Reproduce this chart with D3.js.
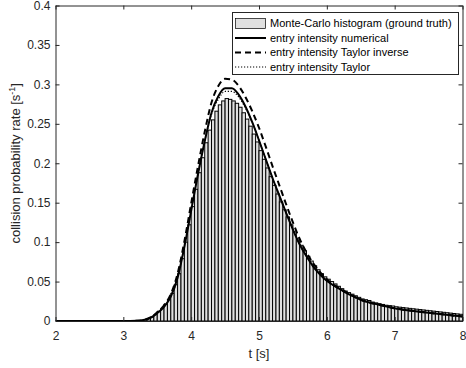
<!DOCTYPE html>
<html>
<head>
<meta charset="utf-8">
<script src="https://d3js.org/d3.v7.min.js"></script>
<style>
  body { margin: 0; background: #fff; }
  svg { display: block; font-family: "Liberation Sans", Arial, sans-serif; }
</style>
</head>
<body>
<svg id="chart" width="466" height="368"></svg>
<script>

// histogram: 120 bins of width 0.05 from 2 to 8
var binStart = 2, binWidth = 0.05;
var histValues = [
  0,0,0,0,0,0,0,0,0,0,0,0,0,0,0,0,0,0,0,0,0,0,0,0,0,0,
  0.002,0.003,0.005,0.008,0.012,0.016,0.021,0.027,0.035,0.046,
  0.060,0.079,0.100,0.122,0.145,0.167,0.188,0.207,0.226,0.242,
  0.255,0.266,0.274,0.279,
  0.282,0.281,0.279,0.276,0.271,0.264,0.256,0.247,0.237,0.227,
  0.216,0.205,0.194,0.183,0.172,0.161,0.151,0.141,0.132,0.122,
  0.113,0.104,0.096,0.089,0.082,0.076,0.070,0.065,0.060,0.056,
  0.053,0.050,0.047,0.044,0.041,0.038,0.036,0.034,0.032,0.030,
  0.028,0.027,0.026,0.024,0.023,0.022,0.021,0.020,0.0195,0.019,
  0.018,0.0175,0.017,0.0165,0.016,0.0155,0.015,0.0145,0.014,0.0135,
  0.013,0.0125,0.012,0.0115,0.011,0.0105,0.010,0.0095,0.009,0.0085
];

var tGrid = [2.0, 2.5, 3.0, 3.2, 3.3, 3.4, 3.5, 3.6, 3.7, 3.8, 3.9, 4.0, 4.1, 4.2, 4.3,
  4.4, 4.5, 4.6, 4.7, 4.8, 4.9, 5.0, 5.1, 5.2, 5.3, 5.4, 5.5, 5.6, 5.7, 5.8, 5.9, 6.0,
  6.1, 6.2, 6.3, 6.4, 6.5, 6.6, 6.7, 6.8, 6.9, 7.0, 7.2, 7.4, 7.6, 7.8, 8.0];

var numerical = [0, 0, 0, 0.0003, 0.0012, 0.004, 0.010, 0.018, 0.031, 0.055, 0.094, 0.140,
  0.186, 0.228, 0.264, 0.285, 0.295, 0.295, 0.287, 0.272, 0.252, 0.229, 0.205, 0.181,
  0.159, 0.137, 0.116, 0.097, 0.082, 0.069, 0.059, 0.051, 0.045, 0.040, 0.035, 0.031,
  0.027, 0.024, 0.022, 0.020, 0.018, 0.016, 0.0135, 0.0115, 0.0095, 0.0075, 0.0058];

var taylorInverse = [0, 0, 0, 0.0003, 0.0013, 0.0045, 0.011, 0.020, 0.034, 0.060, 0.101, 0.149,
  0.196, 0.240, 0.277, 0.298, 0.307, 0.306, 0.298, 0.284, 0.266, 0.245, 0.221, 0.196,
  0.172, 0.148, 0.125, 0.104, 0.087, 0.073, 0.062, 0.053, 0.046, 0.041, 0.036, 0.031,
  0.027, 0.024, 0.022, 0.020, 0.018, 0.016, 0.0135, 0.0115, 0.0095, 0.0075, 0.0058];

var taylor = [0, 0, 0, 0.0003, 0.0012, 0.004, 0.010, 0.018, 0.031, 0.055, 0.094, 0.140,
  0.186, 0.228, 0.262, 0.281, 0.291, 0.291, 0.284, 0.270, 0.252, 0.229, 0.205, 0.181,
  0.159, 0.137, 0.116, 0.097, 0.082, 0.069, 0.059, 0.051, 0.045, 0.040, 0.035, 0.031,
  0.027, 0.024, 0.022, 0.020, 0.018, 0.016, 0.0135, 0.0115, 0.0095, 0.0075, 0.0058];

var xTicks = [2, 3, 4, 5, 6, 7, 8];
var yTicks = [0, 0.05, 0.1, 0.15, 0.2, 0.25, 0.3, 0.35, 0.4];
var yTickLabels = ["0", "0.05", "0.1", "0.15", "0.2", "0.25", "0.3", "0.35", "0.4"];

var legendLabels = [
  "Monte-Carlo histogram (ground truth)",
  "entry intensity numerical",
  "entry intensity Taylor inverse",
  "entry intensity Taylor"
];

var svg = d3.select("#chart");
var axisColor = "#262626";

var x = d3.scaleLinear().domain([2, 8]).range([55.5, 462.5]);
var y = d3.scaleLinear().domain([0, 0.4]).range([321, 5.5]);

svg.append("defs").append("clipPath").attr("id", "plotClip")
  .append("rect")
    .attr("x", x(2)).attr("y", y(0.4))
    .attr("width", x(8) - x(2)).attr("height", y(0) - y(0.4));

// bars
svg.append("g")
  .selectAll("rect")
  .data(histValues)
  .enter().append("rect")
    .attr("x", function(d, i) { return x(binStart + i * binWidth); })
    .attr("width", function(d, i) { return x(binStart + (i + 1) * binWidth) - x(binStart + i * binWidth); })
    .attr("y", function(d) { return y(d); })
    .attr("height", function(d) { return y(0) - y(d); })
    .attr("fill", "#e0e0e0")
    .attr("stroke", "#000")
    .attr("stroke-width", 1);

// lines
var line = d3.line()
  .x(function(d) { return x(d[0]); })
  .y(function(d) { return y(d[1]); })
  .curve(d3.curveMonotoneX);

var series = [
  { values: numerical, width: 2, dash: null },
  { values: taylorInverse, width: 2, dash: "6,4" },
  { values: taylor, width: 1.2, dash: "1.2,1.8" }
];

var lines = svg.append("g").attr("clip-path", "url(#plotClip)");
series.forEach(function(s) {
  lines.append("path")
    .datum(tGrid.map(function(t, i) { return [t, s.values[i]]; }))
    .attr("d", line)
    .attr("fill", "none")
    .attr("stroke", "#000")
    .attr("stroke-width", s.width)
    .attr("stroke-dasharray", s.dash);
});

// axes (box with inward ticks)
function styleAxis(g) {
  g.select(".domain").attr("stroke", axisColor);
  g.selectAll(".tick line").attr("stroke", axisColor);
  g.selectAll(".tick text").attr("fill", axisColor).attr("font-size", 12)
    .attr("font-family", "'Liberation Sans', Arial, sans-serif");
}

svg.append("g")
  .attr("transform", "translate(0," + y(0) + ")")
  .call(d3.axisBottom(x).tickValues(xTicks).tickFormat(d3.format("d"))
    .tickSizeInner(-4).tickSizeOuter(0).tickPadding(10))
  .call(styleAxis);

svg.append("g")
  .attr("transform", "translate(0," + y(0.4) + ")")
  .call(d3.axisTop(x).tickValues(xTicks).tickFormat("")
    .tickSizeInner(-4).tickSizeOuter(0))
  .call(styleAxis);

svg.append("g")
  .attr("transform", "translate(" + x(2) + ",0)")
  .call(d3.axisLeft(y).tickValues(yTicks)
    .tickFormat(function(d, i) { return yTickLabels[i]; })
    .tickSizeInner(-4).tickSizeOuter(0).tickPadding(5))
  .call(styleAxis);

svg.append("g")
  .attr("transform", "translate(" + x(8) + ",0)")
  .call(d3.axisRight(y).tickValues(yTicks).tickFormat("")
    .tickSizeInner(-4).tickSizeOuter(0))
  .call(styleAxis);

svg.selectAll(".domain").attr("fill", "none");

// axis labels
svg.append("text")
  .attr("x", (x(2) + x(8)) / 2)
  .attr("y", 358)
  .attr("text-anchor", "middle")
  .attr("font-size", 13)
  .attr("fill", axisColor)
  .text("t [s]");

var ylab = svg.append("text")
  .attr("transform", "translate(20," + (y(0) + y(0.4)) / 2 + ") rotate(-90)")
  .attr("text-anchor", "middle")
  .attr("font-size", 13)
  .attr("fill", axisColor);
ylab.append("tspan").text("collision probability rate [s");
ylab.append("tspan").attr("font-size", 9).attr("dy", -5).text("-1");
ylab.append("tspan").attr("dy", 5).text("]");

// legend
var legend = svg.append("g");
legend.append("rect")
  .attr("x", 232.5).attr("y", 12.5)
  .attr("width", 226).attr("height", 62)
  .attr("fill", "#fff")
  .attr("stroke", axisColor)
  .attr("stroke-width", 1);

var rowY = [23.5, 38, 52.5, 67];
legend.append("rect")
  .attr("x", 235.5).attr("y", rowY[0] - 5)
  .attr("width", 30).attr("height", 10)
  .attr("fill", "#e0e0e0")
  .attr("stroke", "#000")
  .attr("stroke-width", 0.7);

series.forEach(function(s, i) {
  legend.append("line")
    .attr("x1", 235).attr("x2", 266)
    .attr("y1", rowY[i + 1]).attr("y2", rowY[i + 1])
    .attr("stroke", "#000")
    .attr("stroke-width", s.width)
    .attr("stroke-dasharray", s.dash);
});

legend.selectAll("text.lab")
  .data(legendLabels)
  .enter().append("text")
    .attr("class", "lab")
    .attr("x", 270)
    .attr("y", function(d, i) { return rowY[i]; })
    .attr("dy", "0.35em")
    .attr("font-size", 11)
    .attr("fill", "#000")
    .text(function(d) { return d; });

</script>
</body>
</html>
